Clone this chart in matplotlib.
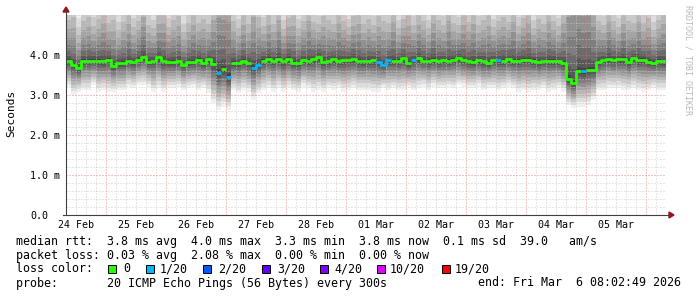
import numpy as np
import matplotlib
matplotlib.use("Agg")
import matplotlib.pyplot as plt
import matplotlib.dates as mdates
import matplotlib.transforms as mtrans
from matplotlib.ticker import MultipleLocator, FixedLocator
from matplotlib.patches import Rectangle, Polygon
from matplotlib.lines import Line2D
from datetime import datetime

# ---------------- data ----------------
start_time = datetime(2026, 2, 24, 8, 2, 49)
end_time = datetime(2026, 3, 6, 8, 2, 49)

# median rtt (ms), one value per 2 h step
median_ms = [
    3.85, 3.75, 3.67, 3.86, 3.86, 3.86, 3.86, 3.84, 3.88, 3.72,
    3.80, 3.80, 3.86, 3.82, 3.88, 3.95, 3.83, 3.85, 3.94, 3.84,
    3.83, 3.83, 3.84, 3.76, 3.82, 3.83, 3.88, 3.80, 3.90, 3.78,
    3.55, 3.64, 3.45, 3.81, 3.80, 3.86, 3.80, 3.68, 3.75, 3.86,
    3.90, 3.85, 3.90, 3.84, 3.90, 3.81, 3.80, 3.87, 3.85, 3.90,
    3.95, 3.82, 3.84, 3.90, 3.84, 3.87, 3.88, 3.89, 3.85, 3.84,
    3.86, 3.87, 3.82, 3.75, 3.87, 3.86, 3.86, 3.92, 3.80, 3.88,
    3.92, 3.86, 3.86, 3.88, 3.84, 3.87, 3.85, 3.88, 3.93, 3.87,
    3.84, 3.82, 3.87, 3.84, 3.80, 3.88, 3.87, 3.86, 3.90, 3.86,
    3.86, 3.88, 3.88, 3.86, 3.82, 3.85, 3.85, 3.86, 3.84, 3.80,
    3.40, 3.30, 3.60, 3.59, 3.62, 3.63, 3.82, 3.88, 3.91, 3.87,
    3.89, 3.90, 3.82, 3.93, 3.87, 3.88, 3.83, 3.81, 3.85, 3.84,
]

# lost pings (of 20) per step
loss_count = [0] * 120
for _i in [30, 32, 37, 38, 62, 63, 64, 69, 86, 103]:
    loss_count[_i] = 1

# lowest ping (ms) per step (bottom edge of smoke)
smoke_lo_ms = [
    3.21, 3.00, 3.08, 3.12, 3.12, 3.25, 3.08, 3.12, 3.08, 3.08,
    3.12, 3.12, 3.21, 3.17, 3.25, 3.25, 3.21, 3.08, 3.17, 3.08,
    3.17, 3.17, 3.21, 3.12, 3.17, 3.21, 3.12, 3.17, 3.04, 2.79,
    2.62, 2.71, 2.62, 3.12, 3.04, 3.12, 3.08, 2.88, 3.04, 3.12,
    3.17, 3.08, 3.17, 3.08, 3.17, 3.12, 3.08, 3.21, 3.17, 3.08,
    3.12, 3.08, 3.17, 3.12, 3.17, 3.08, 3.12, 3.17, 3.12, 3.12,
    3.12, 3.08, 3.08, 3.17, 3.12, 3.17, 3.12, 3.12, 3.17, 3.12,
    3.17, 3.21, 3.12, 3.21, 3.17, 3.17, 3.21, 3.17, 3.25, 3.21,
    3.17, 3.17, 3.21, 3.12, 3.17, 3.17, 3.12, 3.17, 3.21, 3.17,
    3.08, 3.12, 3.08, 3.12, 3.12, 3.17, 3.08, 3.12, 3.17, 3.08,
    2.75, 2.67, 2.71, 2.71, 2.75, 2.88, 3.12, 3.12, 3.17, 3.17,
    3.17, 3.12, 3.12, 3.17, 3.12, 3.08, 3.12, 3.17, 3.12, 3.12,
]

# upper spread of pings above median (ms) per step
smoke_hi_spread = [
    1.9, 2.2, 1.5, 1.8, 2.0, 1.6, 1.9, 2.3, 1.7, 2.1,
    1.5, 1.9, 2.2, 1.6, 1.8, 2.4, 1.7, 1.5, 2.0, 2.3,
    1.6, 1.9, 2.1, 1.5, 1.8, 2.2, 1.7, 2.0, 1.6, 2.6,
    4.5, 4.0, 4.5, 1.9, 1.6, 2.1, 1.8, 3.0, 2.2, 1.6,
    2.0, 1.7, 2.3, 1.5, 1.9, 2.2, 1.6, 1.8, 2.4, 1.7,
    1.5, 2.1, 1.9, 1.6, 2.3, 1.8, 1.5, 2.0, 2.2, 1.7,
    1.9, 1.6, 2.1, 2.0, 1.7, 2.3, 1.5, 1.8, 2.2, 1.6,
    2.0, 1.8, 1.5, 2.2, 1.9, 1.6, 2.4, 1.7, 1.5, 2.1,
    1.8, 2.3, 1.6, 1.9, 2.2, 1.5, 1.8, 2.0, 1.7, 2.3,
    1.6, 1.9, 2.2, 1.5, 2.0, 1.7, 2.3, 1.8, 1.6, 2.4,
    5.0, 5.5, 5.0, 4.5, 4.5, 3.5, 1.9, 1.6, 2.2, 1.8,
    1.5, 2.1, 1.9, 1.6, 2.3, 1.7, 2.0, 1.5, 1.9, 2.2,
]

loss_levels = [0, 1, 2, 3, 4, 10, 19]
loss_labels = ["0", "1/20", "2/20", "3/20", "4/20", "10/20", "19/20"]
loss_colors = ["#26ff00", "#00b8ff", "#0059ff", "#5e00ff", "#7e00ff", "#dd00ff", "#ff0000"]

day_labels = ["24 Feb", "25 Feb", "26 Feb", "27 Feb", "28 Feb",
              "01 Mar", "02 Mar", "03 Mar", "04 Mar", "05 Mar"]
y_tick_values = [0, 1, 2, 3, 4]
y_tick_labels = ["0.0", "1.0 m", "2.0 m", "3.0 m", "4.0 m"]

legend_line1 = "median rtt:  3.8 ms avg  4.0 ms max  3.3 ms min  3.8 ms now  0.1 ms sd  39.0   am/s"
legend_line2 = "packet loss: 0.03 % avg  2.08 % max  0.00 % min  0.00 % now"
legend_line3 = "loss color:"
legend_line4 = "probe:       20 ICMP Echo Pings (56 Bytes) every 300s"
legend_end = "end: Fri Mar  6 08:02:49 2026"
watermark = "RRDTOOL / TOBI OETIKER"

# ---------------- figure ----------------
W, H, DPI = 697, 297, 100
MONO = "DejaVu Sans Mono"
fig = plt.figure(figsize=(W / DPI, H / DPI), dpi=DPI)
fig.patch.set_facecolor("white")

L, R, T, B = 66, 666, 15, 215
ax = fig.add_axes([L / W, (H - B) / H, (R - L) / W, (B - T) / H])
ax.set_facecolor("white")

n = len(median_ms)
t0 = mdates.date2num(start_time)
t1 = mdates.date2num(end_time)
edges = np.array([t0 + (t1 - t0) * i / n for i in range(n + 1)])

m = np.array(median_ms)
lo = np.array(smoke_lo_ms)
sp = np.array(smoke_hi_spread)


def ext(a):
    return np.append(a, a[-1])


half = 10
for b in range(half):
    g = (190.0 / half * (half - b) + 50) / 255.0
    frac = (half - b) / half
    band_lo = m - (m - lo) * frac ** 1.2
    band_hi = m + sp * frac ** 1.7
    ax.fill_between(edges, ext(band_lo), ext(band_hi), step="post",
                    color=(g, g, g), linewidth=0, zorder=1)

# median line coloured by loss
lc = np.array(loss_count)
for lev, col in zip(loss_levels, loss_colors):
    y = np.where(lc == lev, m, np.nan)
    if np.all(np.isnan(y)):
        continue
    ax.plot(edges, ext(y), drawstyle="steps-post", color=col,
            lw=2.0, solid_capstyle="butt", zorder=4)

ax.set_xlim(t0, t1)
ax.set_ylim(0, 5)

# grid
ax.xaxis.set_major_locator(mdates.DayLocator())
ax.xaxis.set_minor_locator(mdates.HourLocator(byhour=[0, 4, 8, 12, 16, 20]))
ax.yaxis.set_major_locator(FixedLocator(y_tick_values))
ax.yaxis.set_minor_locator(MultipleLocator(0.2))
ax.set_axisbelow(False)
ax.grid(which="minor", color="#c8c8c8", alpha=0.9, lw=0.72, ls=(0, (1, 2)))
ax.grid(which="major", color="#e07070", alpha=0.8, lw=0.72, ls=(0, (1, 2)))

ax.set_xticklabels([])
ax.tick_params(axis="x", which="both", length=0)
ax.set_yticklabels(y_tick_labels, family=MONO, fontsize=7.2)
ax.tick_params(axis="y", which="both", length=0, pad=(L - 30) * 72 / DPI)
for lab in ax.get_yticklabels():
    lab.set_horizontalalignment("left")
for s in ax.spines.values():
    s.set_visible(False)

# x labels at noon
trans = mtrans.blended_transform_factory(ax.transData, fig.transFigure)
for k, lab in enumerate(day_labels):
    noon = mdates.date2num(datetime(2026, 2, 24, 12, 0, 0)) + k
    ax.text(noon, (H - 225) / H, lab, transform=trans, ha="center", va="center",
            family=MONO, fontsize=7.2, color="black", clip_on=False)


def fx(px):
    return px / W


def fy(py):
    return (H - py) / H


# axes lines + arrows
fig.add_artist(Line2D([fx(L), fx(L)], [fy(B), fy(10)], color="#404040", lw=0.8))
fig.add_artist(Line2D([fx(63), fx(670)], [fy(B), fy(B)], color="#404040", lw=0.8))
arrow_col = "#a01010"
fig.add_artist(Polygon([[fx(L - 3), fy(12)], [fx(L + 3), fy(12)], [fx(L), fy(7)]],
                       closed=True, color=arrow_col, transform=fig.transFigure))
fig.add_artist(Polygon([[fx(669), fy(B - 3)], [fx(669), fy(B + 3)], [fx(674), fy(B)]],
                       closed=True, color=arrow_col, transform=fig.transFigure))

# y label & watermark
fig.text(fx(11), fy(113), "Seconds", rotation=90, ha="center", va="center",
         family=MONO, fontsize=8)
fig.text(fx(688), fy(60), watermark, rotation=270, ha="center", va="center",
         family=MONO, fontsize=6, color="#b8b8b8")

# legend
LFS = 8.4
fig.text(fx(16), fy(241), legend_line1, family=MONO, fontsize=LFS, va="center", ha="left")
fig.text(fx(16), fy(255), legend_line2, family=MONO, fontsize=LFS, va="center", ha="left")
fig.text(fx(16), fy(269), legend_line3, family=MONO, fontsize=LFS, va="center", ha="left")
fig.text(fx(16), fy(283), legend_line4, family=MONO, fontsize=LFS, va="center", ha="left")
fig.text(fx(478), fy(283), legend_end, family=MONO, fontsize=LFS, va="center", ha="left")

box_x = [108, 146, 203, 262, 320, 377, 442]
text_x = [123, 160, 218, 277, 334, 390, 455]
for bx, tx, col, lab in zip(box_x, text_x, loss_colors, loss_labels):
    fig.add_artist(Rectangle((fx(bx), fy(273)), 8 / W, 8 / H, facecolor=col,
                             edgecolor="black", lw=0.7, transform=fig.transFigure))
    fig.text(fx(tx), fy(269), lab, family=MONO, fontsize=LFS, va="center", ha="left")

fig.savefig("out.png", dpi=DPI, facecolor="white")
